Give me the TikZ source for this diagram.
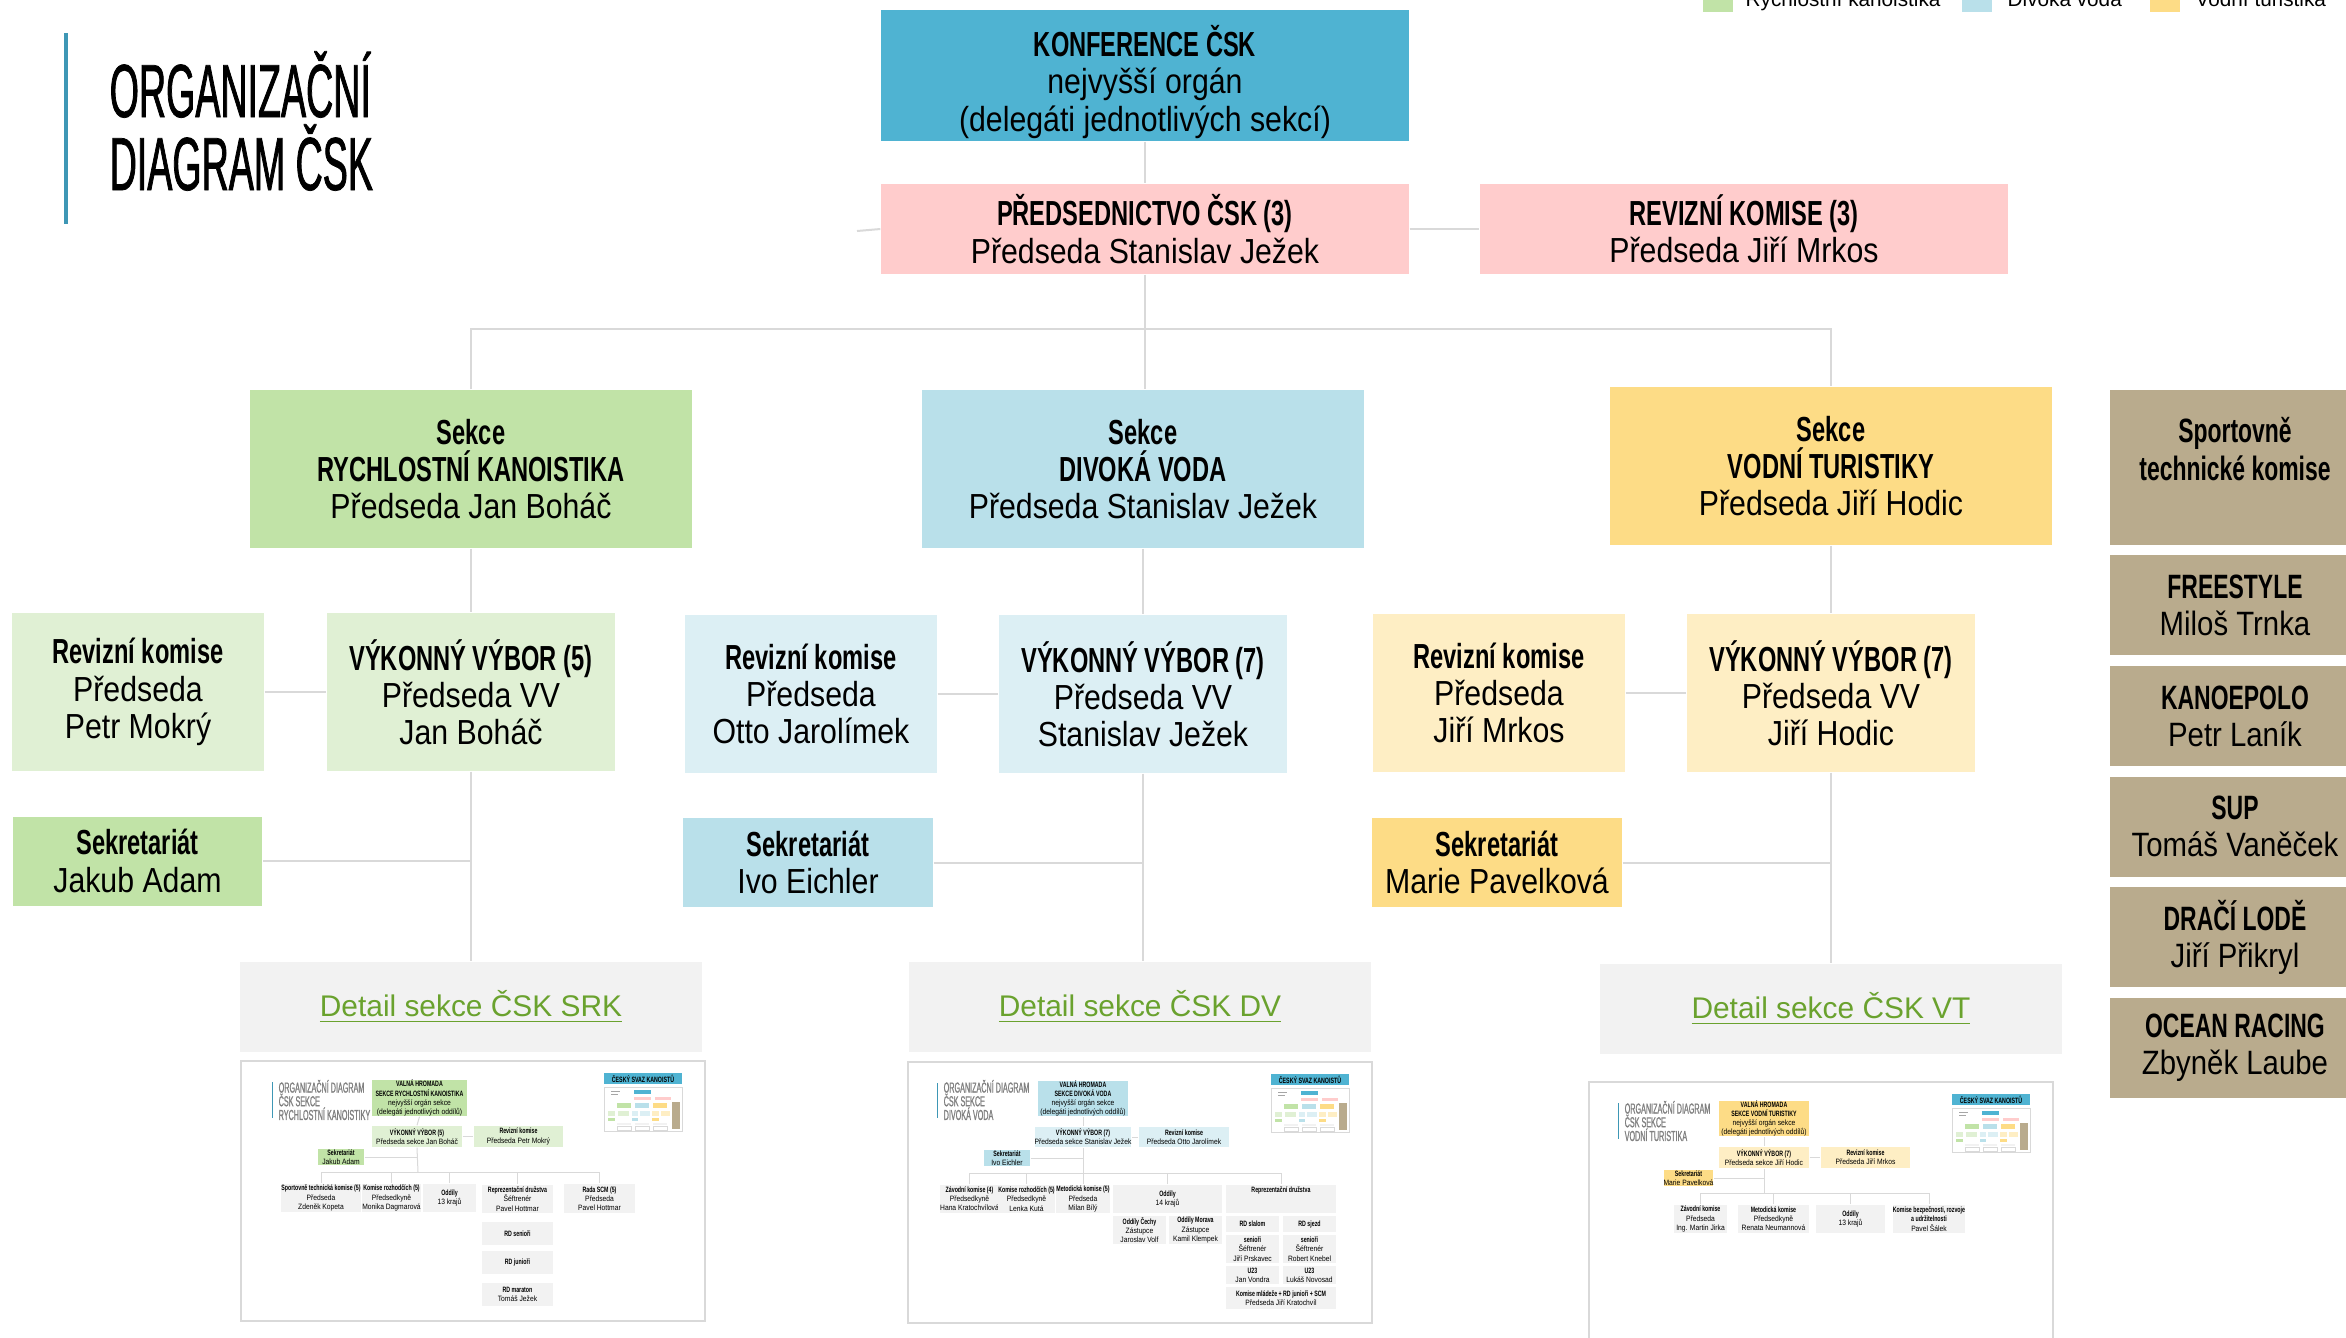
\documentclass[tikz,border=0pt]{standalone}
\usepackage{fontspec}
\setmainfont{Liberation Sans}
\newfontfamily\boxfont{Liberation Sans}[FakeStretch=0.87]
\newfontfamily\headfont{Liberation Sans}[FakeStretch=0.68]
\newfontfamily\titlefont{Liberation Sans}[FakeStretch=0.5, FakeBold=1]
\usepackage{tikz}
\definecolor{konfblue}{RGB}{79,179,210}
\definecolor{titleblue}{RGB}{62,151,181}
\definecolor{presidpink}{RGB}{255,204,204}
\definecolor{srkgreen}{RGB}{193,227,167}
\definecolor{srklight}{RGB}{224,240,212}
\definecolor{dvblue}{RGB}{185,224,234}
\definecolor{dvlight}{RGB}{220,239,244}
\definecolor{vtyellow}{RGB}{253,220,134}
\definecolor{vtlight}{RGB}{254,238,196}
\definecolor{stkbrown}{RGB}{185,171,141}
\definecolor{detailgray}{RGB}{242,242,242}
\definecolor{linkgreen}{RGB}{106,162,46}
\definecolor{linegray}{RGB}{217,217,217}
\usetikzlibrary{positioning, calc}

\newcommand{\hd}[1]{{\headfont\bfseries #1}}
% small box of a thumbnail: name, x1, y1, x2, y2, fill, text
\newcommand{\tnode}[7]{%
  \pgfmathsetmacro\tbx{(#2+#4)/2}\pgfmathsetmacro\tby{(#3+#5)/2}%
  \pgfmathsetmacro\tbw{(#4-#2)/10}\pgfmathsetmacro\tbh{(#5-#3)/10}%
  \node[tbox, fill=#6, minimum width=\tbw mm, minimum height=\tbh mm] (#1) at (\tbx,\tby) {#7};}
% tiny copy of the main chart
\newcommand{\minichart}{%
  \draw[linegray, line width=0.1mm, fill=white] (0,0) rectangle (78,44);
  \fill[gray!70] (7,4) rectangle (16,5.2);
  \fill[gray!70] (7,6.5) rectangle (14,7.7);
  \fill[konfblue] (30,3) rectangle (47,7);
  \fill[presidpink] (30,9.5) rectangle (47,12.5);
  \fill[presidpink] (51,9.5) rectangle (67,12.5);
  \fill[srkgreen] (13,16) rectangle (27,21);
  \fill[dvblue] (31,16) rectangle (45,21);
  \fill[vtyellow] (49,16) rectangle (63,21);
  \fill[stkbrown] (68,15) rectangle (76,42);
  \fill[srklight] (4,24) rectangle (11,29);
  \fill[srklight] (14,24) rectangle (25,29);
  \fill[dvlight] (28,24) rectangle (34,29);
  \fill[dvlight] (36,24) rectangle (46,29);
  \fill[vtlight] (48,24) rectangle (55,29);
  \fill[vtlight] (57,24) rectangle (66,29);
  \fill[srkgreen] (4,31) rectangle (11,34);
  \fill[dvblue] (28,31) rectangle (34,34);
  \fill[vtyellow] (48,31) rectangle (55,34);
  \fill[detailgray] (13,36) rectangle (27,38);
  \fill[detailgray] (31,36) rectangle (45,38);
  \fill[detailgray] (49,36) rectangle (63,38);
  \draw[linegray, line width=0.05mm] (13,39) rectangle (27,43);
  \draw[linegray, line width=0.05mm] (31,39) rectangle (45,43);
  \draw[linegray, line width=0.05mm] (49,39) rectangle (63,43);}

\begin{document}
\begin{tikzpicture}[x=0.1mm, y=-0.1mm,
    orgbox/.style={rectangle, inner sep=0pt, align=center, font=\boxfont\fontsize{9.9}{10.6}\selectfont},
    topbox/.style={orgbox, minimum width=52.8mm, minimum height=9mm},
    secbox/.style={orgbox, minimum width=44.2mm, minimum height=15.8mm},
    revbox/.style={orgbox, minimum width=25.2mm, minimum height=15.8mm},
    vvbox/.style={orgbox, minimum width=28.8mm, minimum height=15.8mm},
    sekrbox/.style={orgbox, minimum width=25mm, minimum height=8.9mm},
    sidebox/.style={orgbox, fill=stkbrown, minimum width=25mm, minimum height=10mm, font=\boxfont\fontsize{9.6}{10.6}\selectfont},
    linkbox/.style={rectangle, fill=detailgray, minimum width=46.2mm, minimum height=9mm, inner sep=0pt, text=linkgreen, font=\fontsize{8.5}{10}\selectfont},
    thumb/.style={rectangle, draw=linegray, line width=0.15mm, fill=white, inner sep=0pt, minimum width=46.4mm},
    tbox/.style={rectangle, inner sep=0pt, align=center, font=\boxfont\fontsize{2.2}{2.6}\selectfont},
    ttitle/.style={anchor=west, align=left, inner sep=0pt, text=gray, font=\titlefont\fontsize{4.1}{3.9}\selectfont},
    conn/.style={draw=linegray, line width=0.2mm},
    tconn/.style={draw=linegray, line width=0.1mm},
    legsq/.style={rectangle, minimum size=3mm, inner sep=0pt},
    legtext/.style={anchor=base west, inner sep=0pt, font=\fontsize{5.9}{7}\selectfont}
]
    \path[use as bounding box, fill=white] (0,0) rectangle (2346,1337);

    % Title
    \draw[titleblue, line width=0.4mm] (66,33) -- (66,224);
    \node[anchor=base west, inner sep=0pt, font=\titlefont\fontsize{21.4}{21}\selectfont] (title1) at (109,117) {ORGANIZAČNÍ};
    \node[anchor=base west, inner sep=0pt, font=\titlefont\fontsize{21.4}{21}\selectfont] (title2) at (109,190) {DIAGRAM ČSK};

    % Legend
    \node[legsq, fill=srkgreen] (legsrk) at (1718,-3) {};
    \node[legtext] (legsrktext) at (1745,6) {Rychlostní kanoistika};
    \node[legsq, fill=dvblue] (legdv) at (1977,-3) {};
    \node[legtext] (legdvtext) at (2007,6) {Divoká voda};
    \node[legsq, fill=vtyellow] (legvt) at (2165,-3) {};
    \node[legtext] (legvttext) at (2195,6) {Vodní turistika};

    % Top
    \node[topbox, fill=konfblue, minimum height=13.1mm] (konf) at (1145,75.5) {\rule{0pt}{4.4mm}\hd{KONFERENCE ČSK}\\nejvyšší orgán\\(delegáti jednotlivých sekcí)};
    \node[topbox, fill=presidpink] (pred) at (1145,229) {\hd{PŘEDSEDNICTVO ČSK (3)}\\Předseda Stanislav Ježek};
    \node[topbox, fill=presidpink] (revk) at (1744,229) {\hd{REVIZNÍ KOMISE (3)}\\Předseda Jiří Mrkos};
    \coordinate (predstub) at (857,231);
    \coordinate (secbus) at (1145,329);

    % Sections
    \node[secbox, fill=srkgreen] (srk) at (471,469) {\hd{Sekce}\\\hd{RYCHLOSTNÍ KANOISTIKA}\\Předseda Jan Boháč};
    \node[secbox, fill=dvblue] (dv) at (1143,469) {\hd{Sekce}\\\hd{DIVOKÁ VODA}\\Předseda Stanislav Ježek};
    \node[secbox, fill=vtyellow] (vt) at (1831,466) {\hd{Sekce}\\\hd{VODNÍ TURISTIKY}\\Předseda Jiří Hodic};

    \node[revbox, fill=srklight] (srkrev) at (138,692) {\hd{Revizní komise}\\Předseda\\Petr Mokrý};
    \node[vvbox, fill=srklight] (srkvv) at (471,692) {\hd{VÝKONNÝ VÝBOR (5)}\\Předseda VV\\Jan Boháč};
    \node[sekrbox, fill=srkgreen] (srksekr) at (137.5,861) {\hd{Sekretariát}\\Jakub Adam};

    \node[revbox, fill=dvlight] (dvrev) at (811,694) {\hd{Revizní komise}\\Předseda\\Otto Jarolímek};
    \node[vvbox, fill=dvlight] (dvvv) at (1143,694) {\hd{VÝKONNÝ VÝBOR (7)}\\Předseda VV\\Stanislav Ježek};
    \node[sekrbox, fill=dvblue] (dvsekr) at (808,862.5) {\hd{Sekretariát}\\Ivo Eichler};

    \node[revbox, fill=vtlight] (vtrev) at (1499,693) {\hd{Revizní komise}\\Předseda\\Jiří Mrkos};
    \node[vvbox, fill=vtlight] (vtvv) at (1831,693) {\hd{VÝKONNÝ VÝBOR (7)}\\Předseda VV\\Jiří Hodic};
    \node[sekrbox, fill=vtyellow] (vtsekr) at (1497,862.5) {\hd{Sekretariát}\\Marie Pavelková};

    \node[linkbox] (srkdet) at (471,1007) {\underline{Detail sekce ČSK SRK}};
    \node[linkbox] (dvdet) at (1140,1007) {\underline{Detail sekce ČSK DV}};
    \node[linkbox] (vtdet) at (1831,1009) {\underline{Detail sekce ČSK VT}};

    % Sportovne technicke komise
    \node[sidebox, minimum height=15.5mm] (stk) at (2235,467.5) {\hd{Sportovně}\\\hd{technické komise}\\\mbox{}};
    \node[sidebox] (freestyle) at (2235,605) {\hd{FREESTYLE}\\Miloš Trnka};
    \node[sidebox] (kanoepolo) at (2235,716) {\hd{KANOEPOLO}\\Petr Laník};
    \node[sidebox] (sup) at (2235,826.5) {\hd{SUP}\\Tomáš Vaněček};
    \node[sidebox] (dracilode) at (2235,937) {\hd{DRAČÍ LODĚ}\\Jiří Přikryl};
    \node[sidebox] (ocean) at (2235,1048) {\hd{OCEAN RACING}\\Zbyněk Laube};

    % Connectors
    \draw[conn] (konf.south) -- (pred.north);
    \draw[conn] (pred.east) -- (revk.west);
    \draw[conn] (predstub) -- (pred.west);
    \draw[conn] (pred.south) -- (secbus) -- (pred.south |- dv.north);
    \draw[conn] (srk.north) |- (secbus) -| (vt.north);
    \foreach \s in {srk, dv, vt} {
        \draw[conn] (\s.south) -- (\s vv.north);
        \draw[conn] (\s vv.south) -- (\s vv.south |- \s det.north);
        \draw[conn] (\s rev.east) -- (\s rev.east -| \s vv.west);
        \draw[conn] (\s sekr.east) -- (\s sekr.east -| \s vv.south);
    }

    % Thumbnails
    \node[thumb, minimum height=26mm] (srkthumb) at (473,1191) {};
    \node[thumb, minimum height=26.1mm] (dvthumb) at (1140,1192.5) {};
    \node[thumb, minimum height=27.6mm] (vtthumb) at (1821,1220) {};

    \begin{scope}[shift={(241,1061)}]
        \draw[titleblue, line width=0.1mm] (31,21) -- (31,57);
        \node[ttitle] (srkttitle) at (37,39) {ORGANIZAČNÍ DIAGRAM\\ČSK SEKCE\\RYCHLOSTNÍ KANOISTIKY};
        \tnode{srktvh}{131}{21}{226}{53}{srkgreen}{\hd{VALNÁ HROMADA}\\\hd{SEKCE RYCHLOSTNÍ KANOISTIKA}\\nejvyšší orgán sekce\\(delegáti jednotlivých oddílů)}
        \tnode{srktvv}{131}{65}{221}{86}{srklight}{\hd{VÝKONNÝ VÝBOR (5)}\\Předseda sekce Jan Boháč}
        \tnode{srktrev}{233}{65}{322}{86}{srklight}{\hd{Revizní komise}\\Předseda Petr Mokrý}
        \tnode{srktsekr}{77}{88}{123}{104}{srkgreen}{\hd{Sekretariát}\\Jakub Adam}
        \tnode{srktb1}{41}{123}{119}{151}{detailgray}{\hd{Sportovně technická komise (5)}\\Předseda\\Zdeněk Kopeta}
        \tnode{srktb2}{124}{123}{177}{151}{detailgray}{\hd{Komise rozhodčích (5)}\\Předsedkyně\\Monika Dagmarová}
        \tnode{srktb3}{182}{123}{235}{151}{detailgray}{\hd{Oddíly}\\13 krajů}
        \tnode{srktb4}{241}{124}{312}{152}{detailgray}{\hd{Reprezentační družstva}\\Šéftrenér\\Pavel Hottmar}
        \tnode{srktb5}{323}{123}{394}{152}{detailgray}{\hd{Rada SCM (5)}\\Předseda\\Pavel Hottmar}
        \tnode{srktr1}{241}{161}{312}{184}{detailgray}{\hd{RD senioři}}
        \tnode{srktr2}{241}{190}{312}{213}{detailgray}{\hd{RD junioři}}
        \tnode{srktr3}{241}{222}{312}{245}{detailgray}{\hd{RD maraton}\\Tomáš Ježek}
        \coordinate (srktbus) at (177,111);
        \draw[tconn] (srktvh.south) -- (srktvv.north);
        \draw[tconn] (srktvv.east) -- (srktrev.west);
        \draw[tconn] (srktsekr.east) -- (srktsekr.east -| srktbus);
        \draw[tconn] (srktvv.south) -- (srktbus);
        \draw[tconn] (srktb1.north) |- (srktbus) -| (srktb5.north);
        \draw[tconn] (srktb2.north) |- (srktbus);
        \draw[tconn] (srktb3.north) |- (srktbus);
        \draw[tconn] (srktb4.north) |- (srktbus);
        \tnode{srktcsk}{363}{12}{441}{23}{konfblue}{\hd{ČESKÝ SVAZ KANOISTŮ}}
        \begin{scope}[shift={(363,26)}]
            \minichart
        \end{scope}
    \end{scope}

    \begin{scope}[shift={(908,1062)}]
        \draw[titleblue, line width=0.1mm] (29,21) -- (29,56);
        \node[ttitle] (dvttitle) at (35,38) {ORGANIZAČNÍ DIAGRAM\\ČSK SEKCE\\DIVOKÁ VODA};
        \tnode{dvtvh}{130}{21}{220}{52}{dvblue}{\hd{VALNÁ HROMADA}\\\hd{SEKCE DIVOKÁ VODA}\\nejvyšší orgán sekce\\(delegáti jednotlivých oddílů)}
        \tnode{dvtvv}{130}{65}{220}{85}{dvlight}{\hd{VÝKONNÝ VÝBOR (7)}\\Předseda sekce Stanislav Ježek}
        \tnode{dvtrev}{231}{65}{321}{85}{dvlight}{\hd{Revizní komise}\\Předseda Otto Jarolímek}
        \tnode{dvtsekr}{76}{88}{122}{104}{dvblue}{\hd{Sekretariát}\\Ivo Eichler}
        \tnode{dvtb1}{35}{123}{88}{151}{detailgray}{\hd{Závodní komise (4)}\\Předsedkyně\\Hana Kratochvílová}
        \tnode{dvtb2}{92}{123}{145}{151}{detailgray}{\hd{Komise rozhodčích (5)}\\Předsedkyně\\Lenka Kutá}
        \tnode{dvtb3}{149}{123}{201}{151}{detailgray}{\hd{Metodická komise (5)}\\Předseda\\Milan Bílý}
        \tnode{dvtb4}{205}{123}{314}{151}{detailgray}{\hd{Oddíly}\\14 krajů}
        \tnode{dvtb5}{318}{123}{428}{151}{detailgray}{\hd{Reprezentační družstva}\\\mbox{}\\\mbox{}}
        \tnode{dvtc1}{205}{154}{258}{182}{detailgray}{\hd{Oddíly Čechy}\\Zástupce\\Jaroslav Volf}
        \tnode{dvtc2}{261}{154}{314}{182}{detailgray}{\hd{Oddíly Morava}\\Zástupce\\Kamil Klempek}
        \tnode{dvtd1}{318}{154}{371}{170}{detailgray}{\hd{RD slalom}}
        \tnode{dvtd2}{375}{154}{428}{170}{detailgray}{\hd{RD sjezd}}
        \tnode{dvte1}{318}{173}{371}{201}{detailgray}{\hd{senioři}\\Šéftrenér\\Jiří Prskavec}
        \tnode{dvte2}{375}{173}{428}{201}{detailgray}{\hd{senioři}\\Šéftrenér\\Robert Knebel}
        \tnode{dvtf1}{318}{204}{371}{222}{detailgray}{\hd{U23}\\Jan Vondra}
        \tnode{dvtf2}{375}{204}{428}{222}{detailgray}{\hd{U23}\\Lukáš Novosad}
        \tnode{dvtg}{318}{225}{428}{247}{detailgray}{\hd{Komise mládeže + RD junioři + SCM}\\Předseda Jiří Kratochvíl}
        \coordinate (dvtbus) at (175,111);
        \draw[tconn] (dvtvh.south) -- (dvtvv.north);
        \draw[tconn] (dvtvv.east) -- (dvtrev.west);
        \draw[tconn] (dvtsekr.east) -- (dvtsekr.east -| dvtbus);
        \draw[tconn] (dvtvv.south) -- (dvtbus);
        \draw[tconn] (dvtb1.north) |- (dvtbus) -| (dvtb5.north);
        \draw[tconn] (dvtb2.north) |- (dvtbus);
        \draw[tconn] (dvtb3.north) |- (dvtbus);
        \draw[tconn] (dvtb4.north) |- (dvtbus);
        \tnode{dvtcsk}{363}{12}{441}{23}{konfblue}{\hd{ČESKÝ SVAZ KANOISTŮ}}
        \begin{scope}[shift={(363,26)}]
            \minichart
        \end{scope}
    \end{scope}

    \begin{scope}[shift={(1589,1082)}]
        \draw[titleblue, line width=0.1mm] (29,21) -- (29,57);
        \node[ttitle] (vtttitle) at (35,39) {ORGANIZAČNÍ DIAGRAM\\ČSK SEKCE\\VODNÍ TURISTIKA};
        \tnode{vttvh}{130}{21}{220}{52}{vtyellow}{\hd{VALNÁ HROMADA}\\\hd{SEKCE VODNÍ TURISTIKY}\\nejvyšší orgán sekce\\(delegáti jednotlivých oddílů)}
        \tnode{vttvv}{130}{65}{220}{86}{vtlight}{\hd{VÝKONNÝ VÝBOR (7)}\\Předseda sekce Jiří Hodic}
        \tnode{vttrev}{232}{65}{321}{86}{vtlight}{\hd{Revizní komise}\\Předseda Jiří Mrkos}
        \tnode{vttsekr}{76}{88}{123}{104}{vtyellow}{\hd{Sekretariát}\\Marie Pavelková}
        \tnode{vttb1}{85}{123}{138}{151}{detailgray}{\hd{Závodní komise}\\Předseda\\Ing. Martin Jirka}
        \tnode{vttb2}{149}{123}{220}{151}{detailgray}{\hd{Metodická komise}\\Předsedkyně\\Renata Neumannová}
        \tnode{vttb3}{227}{123}{296}{151}{detailgray}{\hd{Oddíly}\\13 krajů}
        \tnode{vttb4}{307}{123}{373}{151}{detailgray}{\hd{Komise bezpečnosti, rozvoje}\\\hd{a udržitelnosti}\\Pavel Šálek}
        \coordinate (vttbus) at (175,111);
        \draw[tconn] (vttvh.south) -- (vttvv.north);
        \draw[tconn] (vttvv.east) -- (vttrev.west);
        \draw[tconn] (vttsekr.east) -- (vttsekr.east -| vttbus);
        \draw[tconn] (vttvv.south) -- (vttbus);
        \draw[tconn] (vttb1.north) |- (vttbus) -| (vttb4.north);
        \draw[tconn] (vttb2.north) |- (vttbus);
        \draw[tconn] (vttb3.north) |- (vttbus);
        \tnode{vttcsk}{363}{12}{441}{23}{konfblue}{\hd{ČESKÝ SVAZ KANOISTŮ}}
        \begin{scope}[shift={(363,26)}]
            \minichart
        \end{scope}
    \end{scope}
\end{tikzpicture}
\end{document}
